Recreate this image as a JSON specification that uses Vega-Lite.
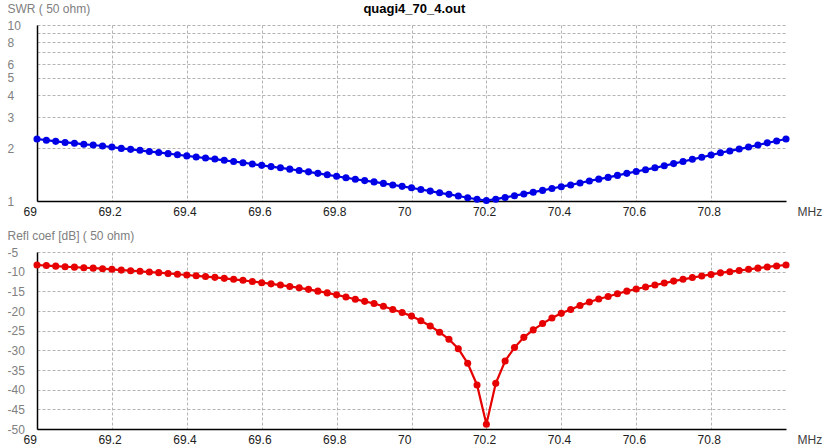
{
  "$schema": "https://vega.github.io/schema/vega-lite/v6.json",
  "padding": {"left": 7, "top": 2, "right": 4, "bottom": 2},
  "background": "white",
  "bounds": "flush",
  "spacing": 51,
  "title": {"text": "quagi4_70_4.out", "anchor": "middle", "fontSize": 13, "fontWeight": "bold", "font": "Liberation Sans", "color": "#000000", "offset": -14},
  "data": {"values": [
    {"f": 69.000, "swr": 2.250, "db": -8.3},
    {"f": 69.025, "swr": 2.215, "db": -8.45},
    {"f": 69.050, "swr": 2.182, "db": -8.6},
    {"f": 69.075, "swr": 2.151, "db": -8.75},
    {"f": 69.100, "swr": 2.130, "db": -8.85},
    {"f": 69.125, "swr": 2.100, "db": -9.0},
    {"f": 69.150, "swr": 2.081, "db": -9.1},
    {"f": 69.175, "swr": 2.053, "db": -9.25},
    {"f": 69.200, "swr": 2.025, "db": -9.4},
    {"f": 69.225, "swr": 1.990, "db": -9.6},
    {"f": 69.250, "swr": 1.965, "db": -9.75},
    {"f": 69.275, "swr": 1.941, "db": -9.9},
    {"f": 69.300, "swr": 1.910, "db": -10.1},
    {"f": 69.325, "swr": 1.887, "db": -10.25},
    {"f": 69.350, "swr": 1.858, "db": -10.45},
    {"f": 69.375, "swr": 1.831, "db": -10.65},
    {"f": 69.400, "swr": 1.804, "db": -10.85},
    {"f": 69.425, "swr": 1.779, "db": -11.05},
    {"f": 69.450, "swr": 1.754, "db": -11.25},
    {"f": 69.475, "swr": 1.731, "db": -11.45},
    {"f": 69.500, "swr": 1.703, "db": -11.7},
    {"f": 69.525, "swr": 1.676, "db": -11.95},
    {"f": 69.550, "swr": 1.651, "db": -12.2},
    {"f": 69.575, "swr": 1.622, "db": -12.5},
    {"f": 69.600, "swr": 1.594, "db": -12.8},
    {"f": 69.625, "swr": 1.568, "db": -13.1},
    {"f": 69.650, "swr": 1.544, "db": -13.4},
    {"f": 69.675, "swr": 1.517, "db": -13.75},
    {"f": 69.700, "swr": 1.491, "db": -14.1},
    {"f": 69.725, "swr": 1.464, "db": -14.5},
    {"f": 69.750, "swr": 1.436, "db": -14.95},
    {"f": 69.775, "swr": 1.409, "db": -15.4},
    {"f": 69.800, "swr": 1.382, "db": -15.9},
    {"f": 69.825, "swr": 1.354, "db": -16.45},
    {"f": 69.850, "swr": 1.329, "db": -17.0},
    {"f": 69.875, "swr": 1.306, "db": -17.55},
    {"f": 69.900, "swr": 1.284, "db": -18.1},
    {"f": 69.925, "swr": 1.259, "db": -18.8},
    {"f": 69.950, "swr": 1.234, "db": -19.6},
    {"f": 69.975, "swr": 1.211, "db": -20.4},
    {"f": 70.000, "swr": 1.188, "db": -21.3},
    {"f": 70.025, "swr": 1.162, "db": -22.5},
    {"f": 70.050, "swr": 1.138, "db": -23.8},
    {"f": 70.075, "swr": 1.113, "db": -25.4},
    {"f": 70.100, "swr": 1.091, "db": -27.2},
    {"f": 70.125, "swr": 1.068, "db": -29.6},
    {"f": 70.150, "swr": 1.044, "db": -33.3},
    {"f": 70.175, "swr": 1.023, "db": -38.8},
    {"f": 70.200, "swr": 1.007, "db": -48.8},
    {"f": 70.225, "swr": 1.024, "db": -38.4},
    {"f": 70.250, "swr": 1.048, "db": -32.7},
    {"f": 70.275, "swr": 1.071, "db": -29.3},
    {"f": 70.300, "swr": 1.097, "db": -26.7},
    {"f": 70.325, "swr": 1.122, "db": -24.8},
    {"f": 70.350, "swr": 1.149, "db": -23.2},
    {"f": 70.375, "swr": 1.177, "db": -21.8},
    {"f": 70.400, "swr": 1.206, "db": -20.6},
    {"f": 70.425, "swr": 1.234, "db": -19.6},
    {"f": 70.450, "swr": 1.266, "db": -18.6},
    {"f": 70.475, "swr": 1.300, "db": -17.7},
    {"f": 70.500, "swr": 1.331, "db": -16.95},
    {"f": 70.525, "swr": 1.362, "db": -16.3},
    {"f": 70.550, "swr": 1.398, "db": -15.6},
    {"f": 70.575, "swr": 1.436, "db": -14.95},
    {"f": 70.600, "swr": 1.471, "db": -14.4},
    {"f": 70.625, "swr": 1.506, "db": -13.9},
    {"f": 70.650, "swr": 1.544, "db": -13.4},
    {"f": 70.675, "swr": 1.586, "db": -12.9},
    {"f": 70.700, "swr": 1.631, "db": -12.4},
    {"f": 70.725, "swr": 1.676, "db": -11.95},
    {"f": 70.750, "swr": 1.725, "db": -11.5},
    {"f": 70.775, "swr": 1.772, "db": -11.1},
    {"f": 70.800, "swr": 1.824, "db": -10.7},
    {"f": 70.825, "swr": 1.880, "db": -10.3},
    {"f": 70.850, "swr": 1.925, "db": -10.0},
    {"f": 70.875, "swr": 1.973, "db": -9.7},
    {"f": 70.900, "swr": 2.025, "db": -9.4},
    {"f": 70.925, "swr": 2.081, "db": -9.1},
    {"f": 70.950, "swr": 2.140, "db": -8.8},
    {"f": 70.975, "swr": 2.193, "db": -8.55},
    {"f": 71.000, "swr": 2.250, "db": -8.3}
  ]},
  "vconcat": [
    {
      "width": 749,
      "height": 176,
      "mark": {"type": "line", "color": "#0000e6", "strokeWidth": 2.2, "point": {"filled": true, "size": 50, "color": "#0000e6"}},
      "encoding": {
        "x": {"field": "f", "type": "quantitative", "scale": {"domain": [69, 71], "nice": false, "zero": false},
          "axis": {"values": [69, 69.2, 69.4, 69.6, 69.8, 70, 70.2, 70.4, 70.6, 70.8], "labelExpr": "'' + datum.value", "title": "MHz", "labelAlign": "left", "labelOffset": -14}},
        "y": {"field": "swr", "type": "quantitative", "scale": {"type": "log", "domain": [1, 10], "nice": false},
          "axis": {"values": [1, 2, 3, 4, 5, 6, 7, 8, 9, 10], "labelExpr": "datum.value == 7 || datum.value == 9 ? '' : '' + datum.value", "title": "SWR ( 50 ohm)"}}
      }
    },
    {
      "width": 749,
      "height": 177,
      "mark": {"type": "line", "color": "#e60000", "strokeWidth": 2.2, "point": {"filled": true, "size": 50, "color": "#e60000"}},
      "encoding": {
        "x": {"field": "f", "type": "quantitative", "scale": {"domain": [69, 71], "nice": false, "zero": false},
          "axis": {"values": [69, 69.2, 69.4, 69.6, 69.8, 70, 70.2, 70.4, 70.6, 70.8], "labelExpr": "'' + datum.value", "title": "MHz", "labelAlign": "left", "labelOffset": -14}},
        "y": {"field": "db", "type": "quantitative", "scale": {"domain": [-50, -5], "nice": false, "zero": false},
          "axis": {"values": [-50, -45, -40, -35, -30, -25, -20, -15, -10, -5], "labelExpr": "'' + datum.value", "title": "Refl coef [dB] ( 50 ohm)"}}
      }
    }
  ],
  "config": {
    "view": {"stroke": null},
    "font": "Liberation Sans",
    "axis": {
      "domainColor": "#000000",
      "domainWidth": 1.5,
      "ticks": false,
      "tickSize": 0,
      "grid": true,
      "gridColor": "#b4b4b4",
      "gridDash": [3, 2],
      "gridWidth": 1,
      "labelFont": "Liberation Sans",
      "labelFontSize": 12,
      "labelOverlap": false,
      "labelFlush": false,
      "titleFont": "Liberation Sans",
      "titleFontSize": 12,
      "titleFontWeight": "normal"
    },
    "axisX": {
      "labelBaseline": "top",
      "labelPadding": 5,
      "labelColor": "#202020",
      "titleAngle": 0,
      "titleAlign": "left",
      "titleBaseline": "top",
      "titleX": 760,
      "titleY": 5,
      "titleColor": "#404040"
    },
    "axisY": {
      "labelAlign": "left",
      "labelPadding": 30,
      "labelBaseline": "middle",
      "labelColor": "#808080",
      "titleAngle": 0,
      "titleAlign": "left",
      "titleBaseline": "top",
      "titleX": -30,
      "titleY": -22,
      "titleColor": "#808080"
    }
  }
}
